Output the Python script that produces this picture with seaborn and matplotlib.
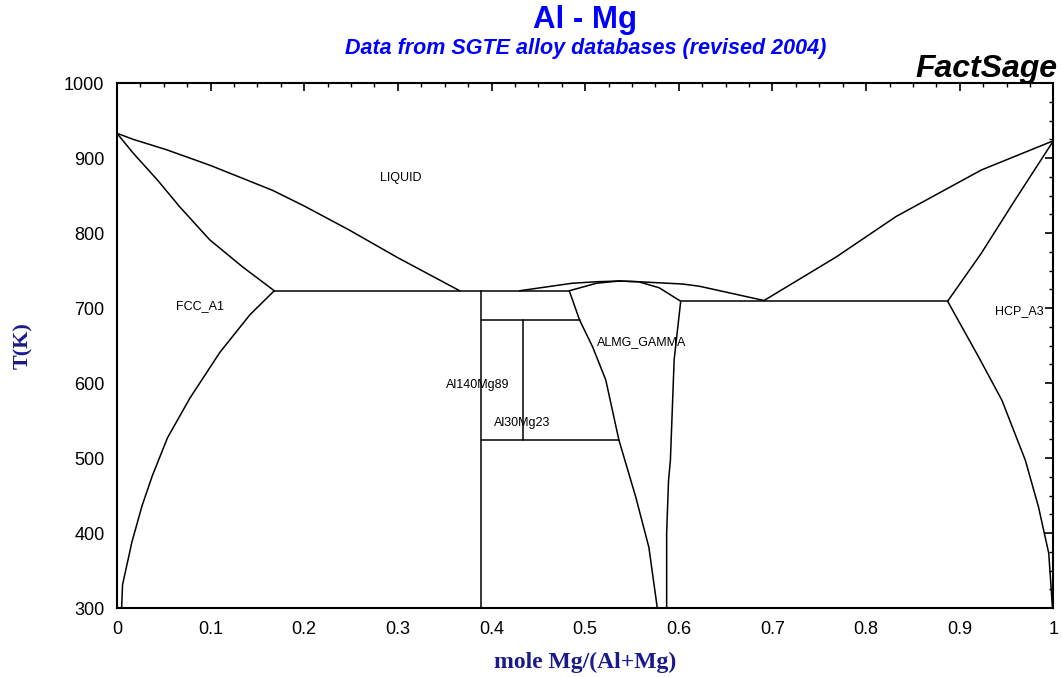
import numpy as np
import pandas as pd
import matplotlib
matplotlib.use("Agg")
import matplotlib.pyplot as plt
import seaborn as sns
from matplotlib.ticker import MultipleLocator

# ---------------- data ----------------
liq_al_x = [0.0, 0.017, 0.053, 0.10, 0.166, 0.20, 0.248, 0.30, 0.366]
liq_al_T = [933, 925, 911, 890, 857, 836, 804, 767, 723]

sol_al_x = [0.0, 0.017, 0.043, 0.067, 0.099, 0.134, 0.168]
sol_al_T = [933, 907, 871, 835, 791, 755, 723]

solv_al_x = [0.168, 0.142, 0.110, 0.078, 0.054, 0.038, 0.027, 0.016, 0.006, 0.005]
solv_al_T = [723, 691, 641, 580, 527, 477, 437, 388, 331, 300]

eut_left_x = [0.168, 0.483]
eut_left_T = [723, 723]

liq_gam_x = [0.43, 0.486, 0.512, 0.536, 0.557, 0.604, 0.622, 0.691]
liq_gam_T = [723, 733, 735, 736, 735, 732, 729, 710]

sol_gam_l_x = [0.483, 0.512, 0.536]
sol_gam_l_T = [723, 733, 736]

sol_gam_r_x = [0.536, 0.557, 0.579, 0.602]
sol_gam_r_T = [736, 735, 727, 709]

gam_l_x = [0.483, 0.494, 0.508, 0.522, 0.536, 0.554, 0.568, 0.577]
gam_l_T = [723, 684, 648, 604, 524, 448, 381, 300]

gam_r_x = [0.602, 0.595, 0.591, 0.589, 0.587, 0.587]
gam_r_T = [709, 631, 497, 470, 400, 300]

beta_x = [0.389, 0.389]
beta_T = [723, 300]

beta_top_x = [0.389, 0.494]
beta_top_T = [684, 684]

eps_x = [0.434, 0.434]
eps_T = [684, 524]

eps_bot_x = [0.389, 0.536]
eps_bot_T = [524, 524]

eut_right_x = [0.602, 0.887]
eut_right_T = [709, 709]

liq_mg_x = [0.691, 0.768, 0.832, 0.923, 1.0]
liq_mg_T = [710, 768, 822, 884, 923]

sol_mg_x = [0.887, 0.923, 0.959, 1.0]
sol_mg_T = [709, 773, 844, 923]

solv_mg_x = [0.887, 0.920, 0.945, 0.970, 0.984, 0.995, 0.999]
solv_mg_T = [709, 635, 577, 497, 435, 373, 300]

phase_labels = ["LIQUID", "FCC_A1", "HCP_A3", "ALMG_GAMMA", "Al140Mg89", "Al30Mg23"]
label_x = [0.303, 0.089, 0.964, 0.560, 0.385, 0.433]
label_T = [873, 703, 696, 655, 597, 547]

x_ticks = [0, 0.1, 0.2, 0.3, 0.4, 0.5, 0.6, 0.7, 0.8, 0.9, 1]
x_tick_labels = ["0", "0.1", "0.2", "0.3", "0.4", "0.5", "0.6", "0.7", "0.8", "0.9", "1"]
y_ticks = [300, 400, 500, 600, 700, 800, 900, 1000]

# ---------------- build long table ----------------
segments = [
    (liq_al_x, liq_al_T), (sol_al_x, sol_al_T), (solv_al_x, solv_al_T),
    (eut_left_x, eut_left_T), (liq_gam_x, liq_gam_T), (sol_gam_l_x, sol_gam_l_T),
    (sol_gam_r_x, sol_gam_r_T), (gam_l_x, gam_l_T), (gam_r_x, gam_r_T),
    (beta_x, beta_T), (beta_top_x, beta_top_T), (eps_x, eps_T),
    (eps_bot_x, eps_bot_T), (eut_right_x, eut_right_T), (liq_mg_x, liq_mg_T),
    (sol_mg_x, sol_mg_T), (solv_mg_x, solv_mg_T),
]
rows = []
for i, (xs, ts) in enumerate(segments):
    for xv, tv in zip(xs, ts):
        rows.append({"seg": i, "x": xv, "T": tv})
df = pd.DataFrame(rows)

# ---------------- plot ----------------
sns.set_theme(style="white")
plt.rcParams["font.family"] = ["Liberation Sans", "DejaVu Sans"]

fig = plt.figure(figsize=(10.63, 6.77), dpi=100)
ax = fig.add_axes([0.110, 0.1019, 0.8810, 0.7755])

sns.lineplot(data=df, x="x", y="T", units="seg", estimator=None, sort=False,
             color="black", linewidth=1.1, ax=ax, legend=False)

ax.set_xlim(0, 1)
ax.set_ylim(300, 1000)
ax.set_xticks(x_ticks)
ax.set_xticklabels(x_tick_labels)
ax.set_yticks(y_ticks)
ax.xaxis.set_minor_locator(MultipleLocator(0.025))
ax.yaxis.set_minor_locator(MultipleLocator(25))
ax.tick_params(which="both", direction="in", top=True, right=True, colors="black",
               labelsize=13)
ax.tick_params(which="major", length=6, width=1.2, pad=9)
ax.tick_params(which="minor", length=3, width=1.0)
for sp in ax.spines.values():
    sp.set_color("black")
    sp.set_linewidth(1.5)

ax.set_xlabel("mole Mg/(Al+Mg)", family=["Liberation Serif", "DejaVu Serif"],
              fontweight="bold", fontsize=17, color="#1a1a8c", labelpad=10)
ax.set_ylabel("T(K)", family=["Liberation Serif", "DejaVu Serif"],
              fontweight="bold", fontsize=16, color="#1a1a8c", labelpad=22)

for lab, lx, lt in zip(phase_labels, label_x, label_T):
    ax.text(lx, lt, lab, ha="center", va="center", fontsize=9, color="black")

cx = 0.110 + 0.8810 / 2
fig.text(cx, 0.970, "Al - Mg", ha="center", va="center", fontsize=22.5,
         fontweight="bold", color="#0000ff")
fig.text(cx, 0.928, "Data from SGTE alloy databases (revised 2004)", ha="center",
         va="center", fontsize=15.5, fontweight="bold", style="italic", color="#0000ff")
fig.text(0.995, 0.898, "FactSage", ha="right", va="center", fontsize=23,
         fontweight="bold", style="italic", color="black")

fig.savefig("out.png", dpi=100)
